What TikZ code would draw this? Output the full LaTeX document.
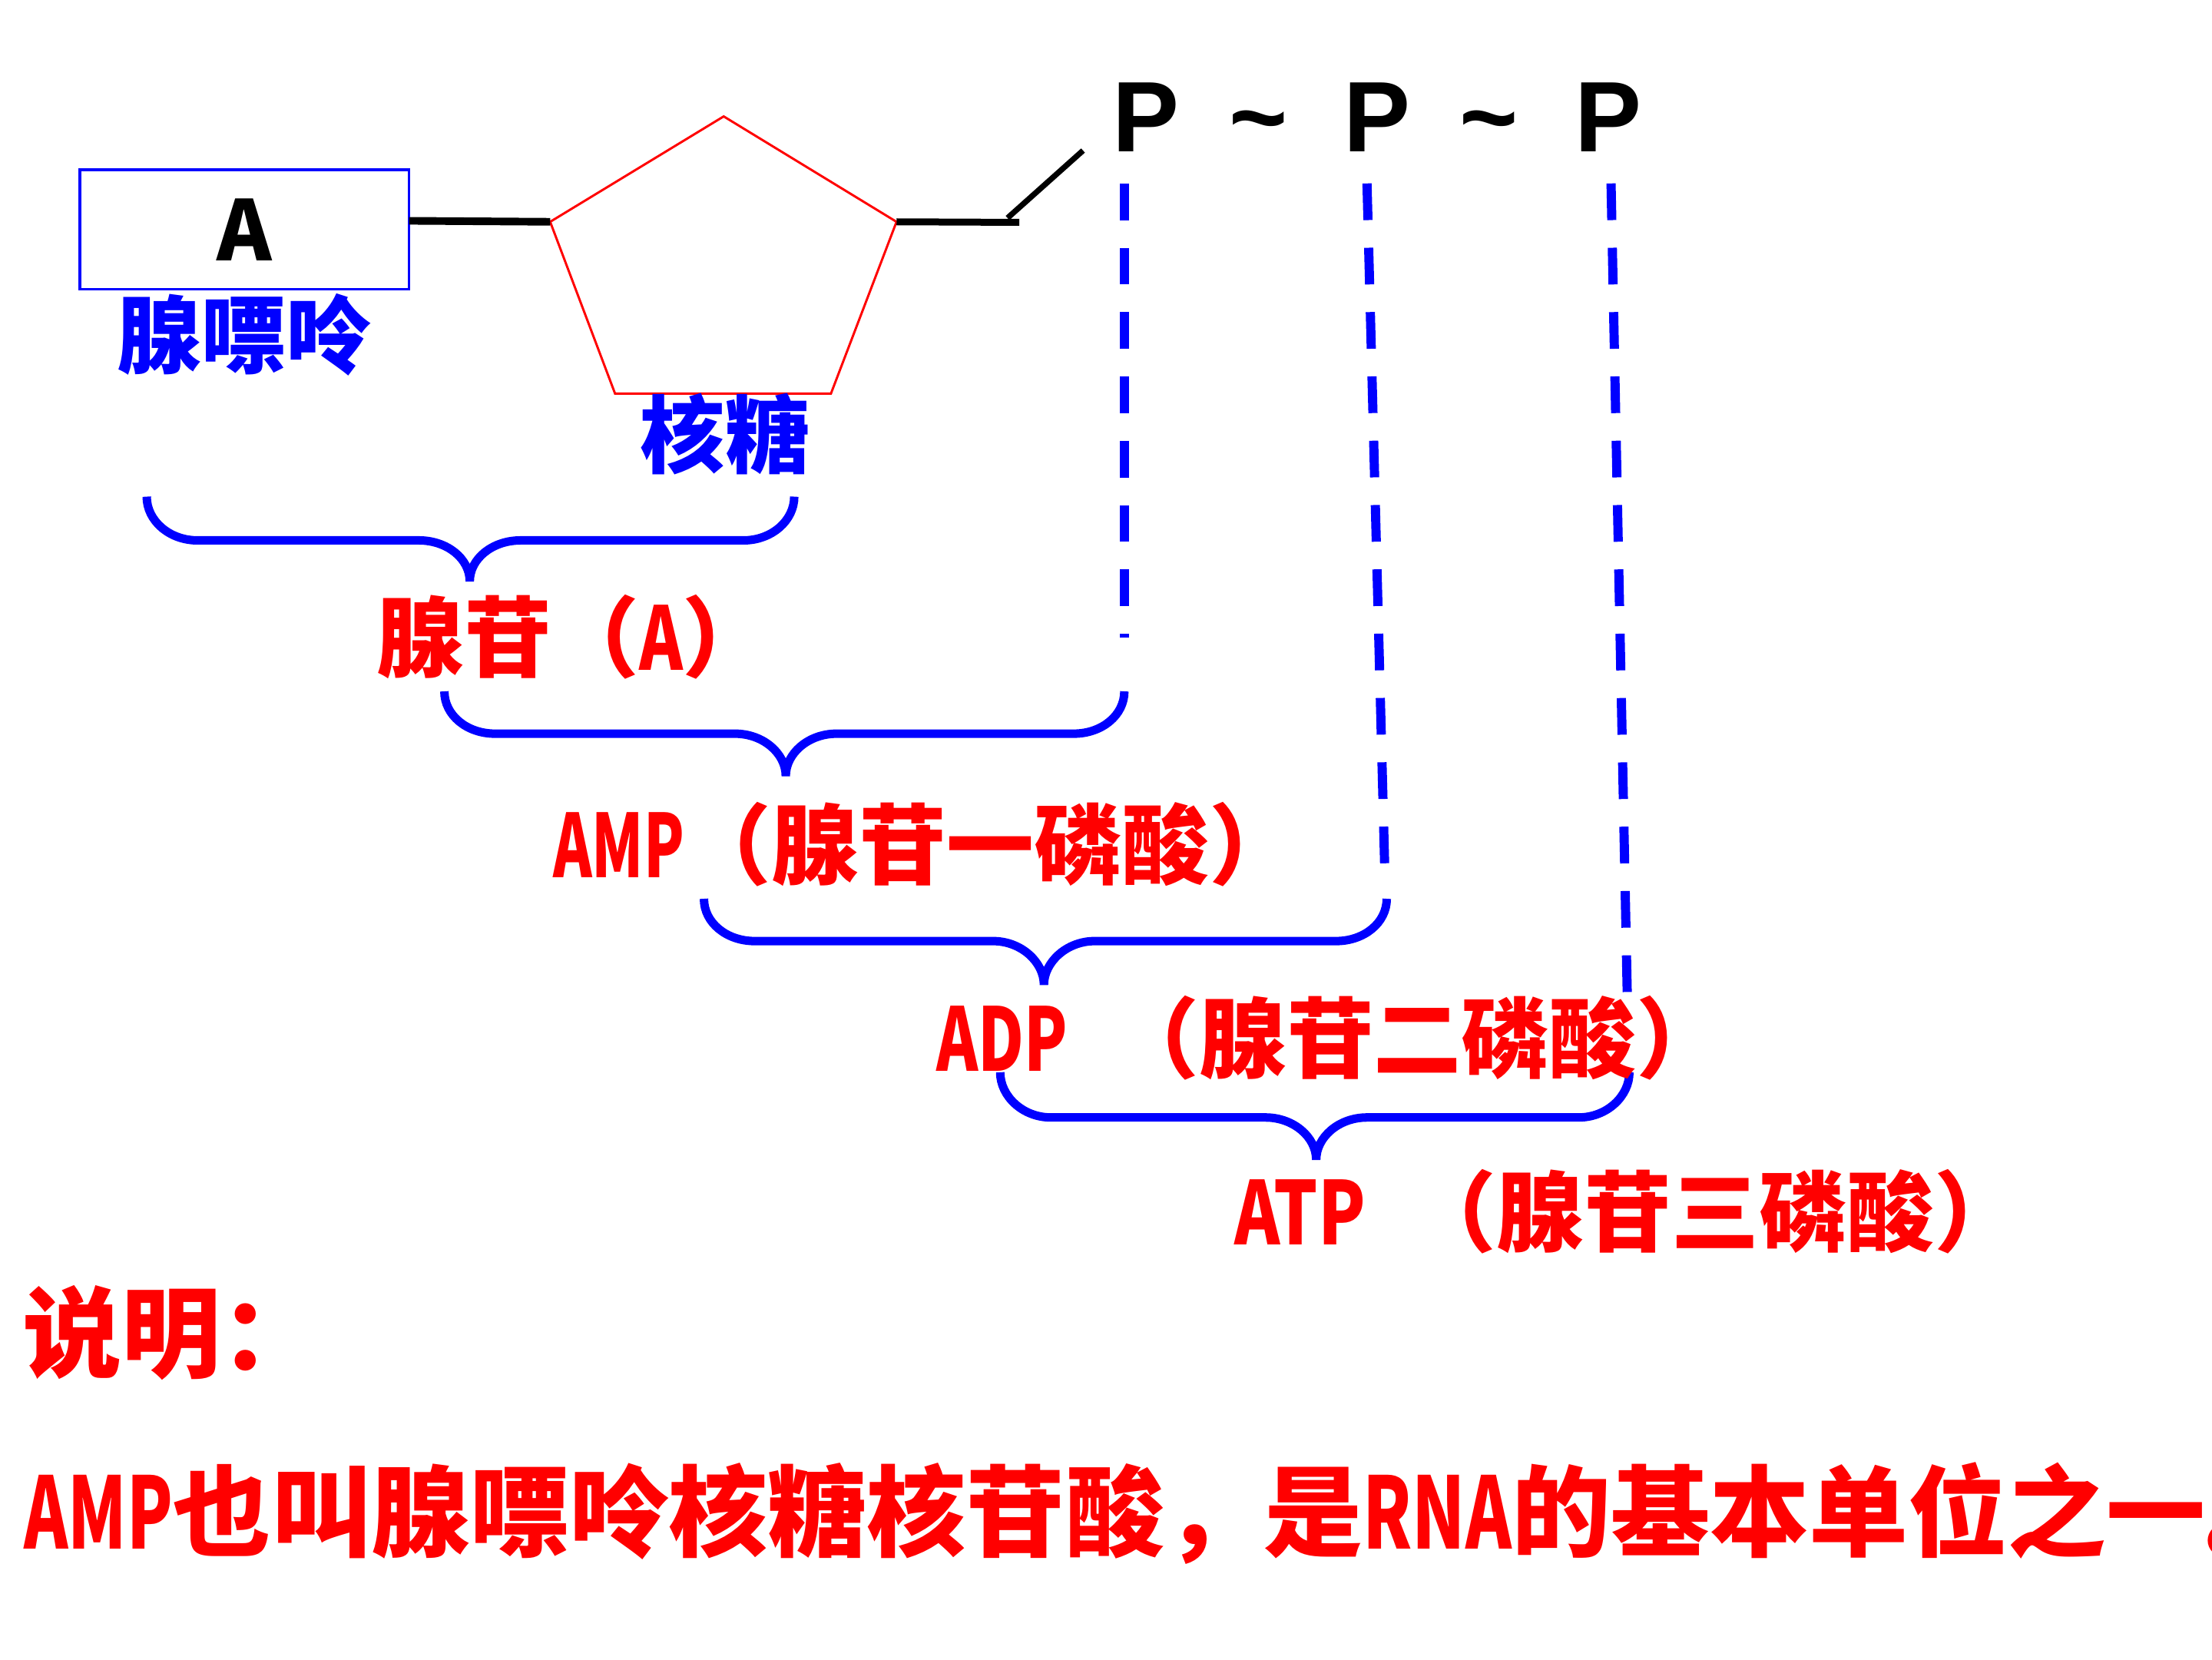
\documentclass[tikz,border=0pt]{standalone}
\usepackage{fontspec}
\usepackage{graphicx}
\setmainfont{Liberation Sans}
\newfontfamily\cjk{Noto Sans CJK SC}[BoldFont={Noto Sans CJK SC Black}]
\definecolor{pblue}{RGB}{0,0,255}
\definecolor{pred}{RGB}{255,0,0}
\newcommand\hw[2]{\resizebox{#1em}{\height}{#2}}
% xl xr yt yh yp xm
\newcommand\drawbrace[6]{%
  \draw[bracestyle] (#1,#3) .. controls (#1,#3+17) and (#1+16,#4) .. (#1+36,#4)
    -- (#6-36,#4) .. controls (#6-16,#4) and (#6,#5-16) .. (#6,#5)
    .. controls (#6,#5-16) and (#6+16,#4) .. (#6+36,#4)
    -- (#2-36,#4) .. controls (#2-16,#4) and (#2,#3+17) .. (#2,#3);}
\begin{document}
\begin{tikzpicture}[x=1pt,y=-1pt,
  every node/.style={inner sep=0pt,outer sep=0pt},
  redlbl/.style={anchor=base west,text=pred,font=\cjk\bfseries\fontsize{62}{62}\selectfont},
  bluelbl/.style={anchor=base west,text=pblue,font=\cjk\bfseries\fontsize{60}{60}\selectfont},
  notelbl/.style={anchor=base west,text=pred,font=\cjk\bfseries\fontsize{70.3}{70.3}\selectfont},
  pglyph/.style={anchor=base,font=\bfseries\fontsize{71}{71}\selectfont},
  dashline/.style={pblue,line width=6.5pt,dash pattern=on 26pt off 19.6pt},
  bracestyle/.style={pblue,line width=6pt},
  bond/.style={black,line width=5pt},
  ring/.style={pred,line width=1.6pt,line join=miter},
  basebox/.style={draw=pblue,line width=1.8pt,minimum width=233.5pt,minimum height=84.8pt,
    font=\cjk\bfseries\fontsize{59}{59}\selectfont}]
\useasboundingbox (0,0) rectangle (1568,1176);
\clip (0,0) rectangle (1568,1176);
\fill[white] (0,0) rectangle (1568,1176);

% adenine box
\node[basebox] (boxA) at (173.3,162.7) {A};
\node[bluelbl] (adenine) at (83,260) {腺嘌呤};

% ribose ring
\coordinate (pT) at (513,82.5);
\coordinate (pL) at (390,157.2);
\coordinate (pR) at (635.5,157.2);
\coordinate (pBL) at (436,279);
\coordinate (pBR) at (589,279);
\draw[ring] (pT) -- (pR) -- (pBR) -- (pBL) -- (pL) -- cycle;
\node[bluelbl] (ribose) at (454,331) {核糖};

% bonds
\coordinate (bA) at (290,156.5);
\coordinate (bE) at (722.5,157.6);
\coordinate (s1) at (714.2,154.5);
\coordinate (s2) at (767.7,106.7);
\draw[bond,line width=5.4pt] (bA) -- (pL);
\draw[bond,line width=4.9pt] (pR) -- (bE);
\draw[bond,line width=4pt] (s1) -- (s2);

% phosphates
\node[pglyph] (p1) at (812.5,107.7) {P};
\node[pglyph] (t1) at (892,107.7) {\textasciitilde};
\node[pglyph] (p2) at (976,107.7) {P};
\node[pglyph] (t2) at (1055.3,107.7) {\textasciitilde};
\node[pglyph] (p3) at (1140,107.7) {P};

% dashed guide lines
\coordinate (d1t) at (797,130);
\coordinate (d1b) at (797,452);
\coordinate (d2t) at (969,130);
\coordinate (d2b) at (981.5,612.5);
\coordinate (d3t) at (1142,130);
\coordinate (d3b) at (1153.5,705.5);
\draw[dashline] (d1t) -- (d1b);
\draw[dashline] (d2t) -- (d2b);
\draw[dashline] (d3t) -- (d3b);

% braces
\drawbrace{104}{563}{352}{383}{412}{333}
\drawbrace{315}{797}{490}{520}{550}{557}
\drawbrace{499}{983}{637}{667}{698}{740}
\drawbrace{709}{1155}{760}{792}{822}{933}

% labels
\node[redlbl] (l1) at (267,475) {腺苷（\hw{0.5}{A}）};
\node[redlbl] (l2) at (392,622) {\hw{1.5}{AMP}（腺苷一磷酸）};
\node[redlbl] (l3) at (664,759) {\hw{1.5}{ADP}\hspace{0.5em}（腺苷二磷酸）};
\node[redlbl] (l4) at (875,882) {\hw{1.5}{ATP}\hspace{0.5em}（腺苷三磷酸）};

% note
\node[notelbl] (n1) at (16,971) {说明：};
\node[notelbl] (n2) at (17,1098) {\hw{1.5}{AMP}也叫腺嘌呤核糖核苷酸，是\hw{1.5}{RNA}的基本单位之一。};
\end{tikzpicture}
\end{document}
